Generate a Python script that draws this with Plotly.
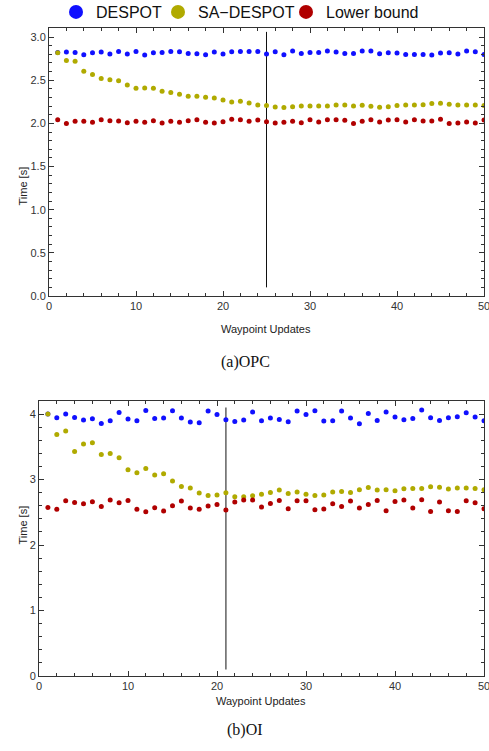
import plotly.graph_objects as go

waypoints = list(range(1, 51))

# (a) OPC
opc_despot = [2.822, 2.826, 2.822, 2.795, 2.818, 2.826, 2.803, 2.834, 2.803, 2.834,
              2.791, 2.818, 2.822, 2.834, 2.830, 2.810, 2.807, 2.795, 2.826, 2.803,
              2.830, 2.834, 2.834, 2.834, 2.803, 2.830, 2.795, 2.838, 2.811, 2.822,
              2.822, 2.838, 2.826, 2.811, 2.811, 2.838, 2.838, 2.807, 2.818, 2.814,
              2.799, 2.799, 2.799, 2.791, 2.814, 2.818, 2.803, 2.838, 2.830, 2.799]
opc_sa = [2.818, 2.729, 2.721, 2.605, 2.566, 2.520, 2.504, 2.493, 2.446, 2.407,
          2.411, 2.407, 2.372, 2.357, 2.337, 2.314, 2.314, 2.303, 2.295, 2.272,
          2.249, 2.256, 2.237, 2.214, 2.206, 2.190, 2.183, 2.194, 2.202, 2.202,
          2.202, 2.202, 2.214, 2.214, 2.202, 2.210, 2.198, 2.186, 2.194, 2.206,
          2.214, 2.214, 2.217, 2.229, 2.233, 2.221, 2.214, 2.214, 2.214, 2.206]
opc_lower = [2.043, 2.000, 2.024, 2.024, 2.012, 2.043, 2.031, 2.028, 2.008, 2.024,
             2.012, 2.031, 2.004, 2.024, 2.012, 2.031, 2.043, 2.012, 2.004, 2.020,
             2.047, 2.043, 2.024, 2.039, 2.020, 2.004, 2.012, 2.024, 2.008, 2.043,
             2.016, 2.043, 2.043, 2.035, 2.000, 2.024, 2.043, 2.016, 2.039, 2.043,
             2.016, 2.043, 2.028, 2.028, 2.047, 2.000, 2.004, 2.016, 2.004, 2.039]
opc_marker_x = 25
opc_marker_y = [0.1, 3.06]

# (b) OI
oi_despot = [4.000, 3.944, 4.000, 3.949, 3.908, 3.929, 3.858, 3.898, 4.025, 3.924,
             3.898, 4.056, 3.934, 3.939, 4.051, 3.939, 3.878, 3.868, 4.046, 3.995,
             3.913, 3.888, 3.908, 4.031, 3.898, 3.939, 3.919, 3.883, 4.046, 3.995,
             4.051, 3.893, 3.898, 4.046, 3.939, 3.852, 4.010, 3.903, 4.031, 3.954,
             3.913, 3.934, 4.061, 3.944, 3.903, 3.944, 3.959, 4.020, 3.954, 3.898]
oi_sa = [4.000, 3.690, 3.740, 3.430, 3.542, 3.562, 3.384, 3.400, 3.333, 3.150,
         3.104, 3.171, 3.069, 3.089, 2.977, 2.896, 2.870, 2.794, 2.758, 2.763,
         2.799, 2.738, 2.738, 2.753, 2.774, 2.804, 2.840, 2.789, 2.809, 2.774,
         2.758, 2.763, 2.809, 2.819, 2.804, 2.845, 2.880, 2.840, 2.845, 2.830,
         2.860, 2.865, 2.865, 2.891, 2.881, 2.855, 2.870, 2.870, 2.865, 2.845]
oi_lower = [2.575, 2.545, 2.677, 2.651, 2.631, 2.662, 2.590, 2.687, 2.646, 2.682,
            2.545, 2.509, 2.570, 2.519, 2.601, 2.672, 2.565, 2.545, 2.595, 2.621,
            2.534, 2.656, 2.687, 2.687, 2.580, 2.636, 2.682, 2.555, 2.677, 2.677,
            2.540, 2.550, 2.631, 2.590, 2.672, 2.565, 2.621, 2.682, 2.524, 2.667,
            2.687, 2.565, 2.692, 2.514, 2.656, 2.524, 2.514, 2.677, 2.646, 2.555]
oi_marker_x = 21
oi_marker_y = [0.1, 4.1]

series_names = ["DESPOT", "SA\u2212DESPOT", "Lower bound"]
series_colors = ["#1010ff", "#b0aa00", "#b00000"]
legend_ids = ["legend", "legend2", "legend3"]

W, H = 489, 751
SANS = "Liberation Sans, Arial, sans-serif"
SERIF = "Liberation Serif, Times New Roman, serif"

fig = go.Figure()

# vertical marker lines (drawn first, below points)
fig.add_trace(go.Scatter(x=[opc_marker_x, opc_marker_x], y=opc_marker_y, mode="lines",
                         line=dict(color="#111111", width=1), showlegend=False,
                         hoverinfo="skip", xaxis="x", yaxis="y"))
fig.add_trace(go.Scatter(x=[oi_marker_x, oi_marker_x], y=oi_marker_y, mode="lines",
                         line=dict(color="#555555", width=1.4), showlegend=False,
                         hoverinfo="skip", xaxis="x2", yaxis="y2"))

for name, color, ya, yb in zip(series_names, series_colors,
                               [opc_despot, opc_sa, opc_lower],
                               [oi_despot, oi_sa, oi_lower]):
    fig.add_trace(go.Scatter(x=waypoints, y=ya, mode="markers", name=name,
                             marker=dict(color=color, size=5), showlegend=False,
                             xaxis="x", yaxis="y"))
    fig.add_trace(go.Scatter(x=waypoints, y=yb, mode="markers", name=name,
                             marker=dict(color=color, size=5), showlegend=False,
                             xaxis="x2", yaxis="y2"))

# legend entries (large markers), each in its own legend for exact placement
for name, color, lid in zip(series_names, series_colors, legend_ids):
    fig.add_trace(go.Scatter(x=[None], y=[None], mode="markers", name=name,
                             marker=dict(color=color, size=14), showlegend=True,
                             legend=lid, xaxis="x", yaxis="y"))

axis_common = dict(
    showgrid=False, zeroline=False, showline=True, linecolor="#333333", linewidth=1,
    mirror="allticks", ticks="inside", ticklen=5, tickcolor="#333333", tickwidth=1,
    tickfont=dict(family=SANS, size=11, color="#333333"), automargin=False,
    ticklabeloverflow="allow",
)

def px_x(p):
    return p / W

def px_y(p):
    return 1 - p / H

legend_marker_px = [77, 179, 307]
legend_style = dict(orientation="h", xanchor="left", yanchor="top",
                    font=dict(family=SANS, size=16, color="#111111"),
                    bgcolor="rgba(0,0,0,0)", itemsizing="trace")

fig.update_layout(
    width=W, height=H,
    margin=dict(l=0, r=0, t=0, b=0, autoexpand=False),
    paper_bgcolor="white", plot_bgcolor="white",
    xaxis=dict(domain=[px_x(49), px_x(484)], range=[0, 50], anchor="y",
               tickvals=[0, 10, 20, 30, 40, 50],
               minor=dict(dtick=2, tick0=0, ticks="inside", ticklen=3, tickcolor="#333333"),
               **axis_common),
    yaxis=dict(domain=[px_y(296), px_y(28)], range=[0, 3.105], anchor="x",
               tickvals=[0, 0.5, 1.0, 1.5, 2.0, 2.5, 3.0], tickformat=".1f",
               minor=dict(dtick=0.1, tick0=0, ticks="inside", ticklen=3, tickcolor="#333333"),
               **axis_common),
    xaxis2=dict(domain=[px_x(39), px_x(484)], range=[0, 50], anchor="y2",
                tickvals=[0, 10, 20, 30, 40, 50],
                minor=dict(dtick=2, tick0=0, ticks="inside", ticklen=3, tickcolor="#333333"),
                **axis_common),
    yaxis2=dict(domain=[px_y(676), px_y(401)], range=[0, 4.2], anchor="x2",
                tickvals=[0, 1, 2, 3, 4],
                minor=dict(dtick=0.2, tick0=0, ticks="inside", ticklen=3, tickcolor="#333333"),
                **axis_common),
    legend=dict(x=px_x(legend_marker_px[0] - 21), y=1 + 5 / H, **legend_style),
    legend2=dict(x=px_x(legend_marker_px[1] - 21), y=1 + 5 / H, **legend_style),
    legend3=dict(x=px_x(legend_marker_px[2] - 21), y=1 + 5 / H, **legend_style),
    showlegend=True,
)

annotations = [
    dict(text="Waypoint Updates", x=px_x(266), y=px_y(329), xref="paper", yref="paper",
         showarrow=False, font=dict(family=SANS, size=11, color="#222222")),
    dict(text="Waypoint Updates", x=px_x(261), y=px_y(709), xref="paper", yref="paper",
         showarrow=False, font=dict(family=SANS, size=11, color="#222222")),
    dict(text="Time [s]", x=px_x(14), y=px_y(165), xref="paper", yref="paper",
         showarrow=False, textangle=-90, font=dict(family=SANS, size=11, color="#222222")),
    dict(text="Time [s]", x=px_x(14), y=px_y(547), xref="paper", yref="paper",
         showarrow=False, textangle=-90, font=dict(family=SANS, size=11, color="#222222")),
    dict(text="(a)OPC", x=px_x(245), y=px_y(362), xref="paper", yref="paper",
         showarrow=False, font=dict(family=SERIF, size=16, color="#111111")),
    dict(text="(b)OI", x=px_x(245), y=px_y(741), xref="paper", yref="paper",
         showarrow=False, font=dict(family=SERIF, size=16, color="#111111")),
]
fig.update_layout(annotations=annotations)

fig.write_html("out.html", config={"displayModeBar": False},
               post_script="document.body.style.margin='0';document.body.style.overflow='hidden';")
